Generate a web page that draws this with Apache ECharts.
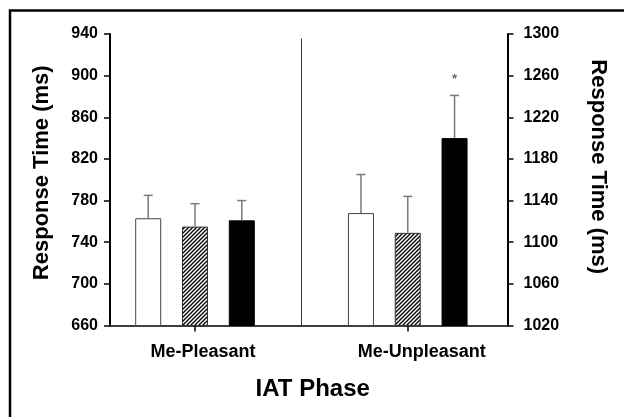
<!DOCTYPE html>
<html>
<head>
<meta charset="utf-8">
<script src="https://cdn.jsdelivr.net/npm/echarts@6/dist/echarts.min.js"></script>
<style>
  html, body { margin: 0; padding: 0; background: #fff; }
  #chart { width: 624px; height: 417px; }
</style>
</head>
<body>
<div id="chart"></div>
<script>
// ---- data ----
const categories = ['Me-Pleasant', 'Me-Unpleasant'];
const conditionNames = ['White', 'Hatched', 'Black'];
const pleasantMeans = [763, 755, 761];
const pleasantErrTops = [785, 777, 780];
const unpleasantMeans = [1128, 1109, 1200];
const unpleasantErrTops = [1165, 1144, 1241];
const unpleasantSig = ['', '', '*'];
const leftAxisRange = [660, 940];
const rightAxisRange = [1020, 1300];
const axisStep = 40;
const axisTitle = 'Response Time (ms)';
const xTitle = 'IAT Phase';

// ---- styling ----
const FONT = "'Liberation Sans', Arial, sans-serif";
const BAR_W = 26;
const GAP_RATIO = 0.8;
const SLOT = BAR_W * (1 + GAP_RATIO);

function hatchCanvas() {
  const c = document.createElement('canvas');
  c.width = 4; c.height = 4;
  const g = c.getContext('2d');
  g.fillStyle = '#fff';
  g.fillRect(0, 0, 4, 4);
  g.strokeStyle = '#000';
  g.lineWidth = 1.3;
  g.beginPath();
  g.moveTo(-1, 5); g.lineTo(5, -1);
  g.moveTo(-3, 3); g.lineTo(3, -3);
  g.moveTo(1, 7); g.lineTo(7, 1);
  g.stroke();
  return c;
}
const hatch = { image: hatchCanvas(), repeat: 'repeat' };

const barStyles = [
  { color: '#fff', borderColor: '#444', borderWidth: 1 },
  { color: hatch, borderColor: '#333', borderWidth: 1 },
  { color: '#000', borderColor: '#000', borderWidth: 1 }
];

function barSeries(gridIdx, means) {
  return means.map((v, i) => ({
    name: conditionNames[i],
    type: 'bar',
    xAxisIndex: gridIdx,
    yAxisIndex: gridIdx,
    barWidth: BAR_W,
    barGap: (GAP_RATIO * 100) + '%',
    itemStyle: barStyles[i],
    data: [v],
    z: 2
  }));
}

function errSeries(gridIdx, means, tops, sig) {
  return {
    type: 'custom',
    xAxisIndex: gridIdx,
    yAxisIndex: gridIdx,
    z: 5,
    encode: { x: 0, y: [1, 2] },
    data: means.map((m, i) => [0, m, tops[i], i]),
    renderItem: function (params, api) {
      const i = api.value(3);
      const base = api.coord([0, api.value(1)]);
      const top = api.coord([0, api.value(2)]);
      const x = base[0] + (i - 1) * SLOT;
      const children = [
        { type: 'line', shape: { x1: x, y1: base[1], x2: x, y2: top[1] },
          style: { stroke: '#7a7a7a', lineWidth: 1.5 } },
        { type: 'line', shape: { x1: x - 4.5, y1: top[1], x2: x + 4.5, y2: top[1] },
          style: { stroke: '#7a7a7a', lineWidth: 1.5 } }
      ];
      const s = sig ? sig[params.dataIndex] : '';
      if (s) {
        children.push({ type: 'text', style: { text: s, x: x, y: top[1] - 16,
          align: 'center', verticalAlign: 'middle', fill: '#666',
          font: 'bold 13px ' + FONT } });
      }
      return { type: 'group', children: children };
    }
  };
}

const chart = echarts.init(document.getElementById('chart'), null, { renderer: 'canvas' });

const tickLabel = { color: '#000', fontFamily: FONT, fontWeight: 'bold', fontSize: 16,
  formatter: function (v) { return String(v); } };

const option = {
  backgroundColor: '#fff',
  animation: false,
  grid: [
    { left: 110, top: 34, width: 170, height: 291.5 },
    { left: 308, top: 34, width: 199.5, height: 291.5 },
    { left: 110, top: 39, width: 397.5, height: 286.5 }
  ],
  xAxis: [
    { type: 'category', gridIndex: 0, data: [categories[0]],
      axisLine: { show: false },
      axisTick: { show: true, alignWithLabel: true, length: 6, lineStyle: { color: '#000', width: 1.5 } },
      axisLabel: { margin: 18, color: '#000', fontFamily: FONT, fontWeight: 'bold', fontSize: 18, padding: [0, 0, 0, 16] } },
    { type: 'category', gridIndex: 1, data: [categories[1]],
      axisLine: { show: false },
      axisTick: { show: true, alignWithLabel: true, length: 6, lineStyle: { color: '#000', width: 1.5 } },
      axisLabel: { margin: 18, color: '#000', fontFamily: FONT, fontWeight: 'bold', fontSize: 18, padding: [0, 0, 0, 28] } },
    { type: 'category', gridIndex: 2, data: [''],
      axisLine: { show: true, lineStyle: { color: '#000', width: 1.5 } },
      axisTick: { show: false }, axisLabel: { show: false },
      name: xTitle, nameLocation: 'middle', nameGap: 52,
      nameTextStyle: { color: '#000', fontFamily: FONT, fontWeight: 'bold', fontSize: 24, padding: [0, 0, 0, 8] } }
  ],
  yAxis: [
    { type: 'value', gridIndex: 0, position: 'left',
      min: leftAxisRange[0], max: leftAxisRange[1], interval: axisStep,
      splitLine: { show: false },
      axisLine: { show: true, lineStyle: { color: '#000', width: 2 } },
      axisTick: { show: true, length: 6, lineStyle: { color: '#000', width: 1.5 } },
      axisLabel: Object.assign({ margin: 12 }, tickLabel),
      name: axisTitle, nameLocation: 'middle', nameGap: 57, nameRotate: 90,
      nameTextStyle: { color: '#000', fontFamily: FONT, fontWeight: 'bold', fontSize: 22, padding: [0, 0, 0, 14] } },
    { type: 'value', gridIndex: 1, position: 'right',
      min: rightAxisRange[0], max: rightAxisRange[1], interval: axisStep,
      splitLine: { show: false },
      axisLine: { show: true, lineStyle: { color: '#000', width: 2 } },
      axisTick: { show: true, length: 6, lineStyle: { color: '#000', width: 1.5 } },
      axisLabel: Object.assign({ margin: 16 }, tickLabel),
      name: axisTitle, nameLocation: 'middle', nameGap: 80, nameRotate: -90,
      nameTextStyle: { color: '#000', fontFamily: FONT, fontWeight: 'bold', fontSize: 22, padding: [0, 26, 0, 0] } },
    { type: 'value', gridIndex: 2, position: 'left', offset: -191, min: 0, max: 1,
      splitLine: { show: false },
      axisLine: { show: true, lineStyle: { color: '#333', width: 1 } },
      axisTick: { show: false }, axisLabel: { show: false } }
  ],
  graphic: [
    { type: 'rect', shape: { x: 10, y: 10.5, width: 700, height: 500 },
      style: { fill: 'none', stroke: '#000', lineWidth: 2.5 }, silent: true }
  ],
  series: [].concat(
    barSeries(0, pleasantMeans),
    barSeries(1, unpleasantMeans),
    [errSeries(0, pleasantMeans, pleasantErrTops, null),
     errSeries(1, unpleasantMeans, unpleasantErrTops, unpleasantSig)]
  )
};
chart.setOption(option);
</script>
</body>
</html>
